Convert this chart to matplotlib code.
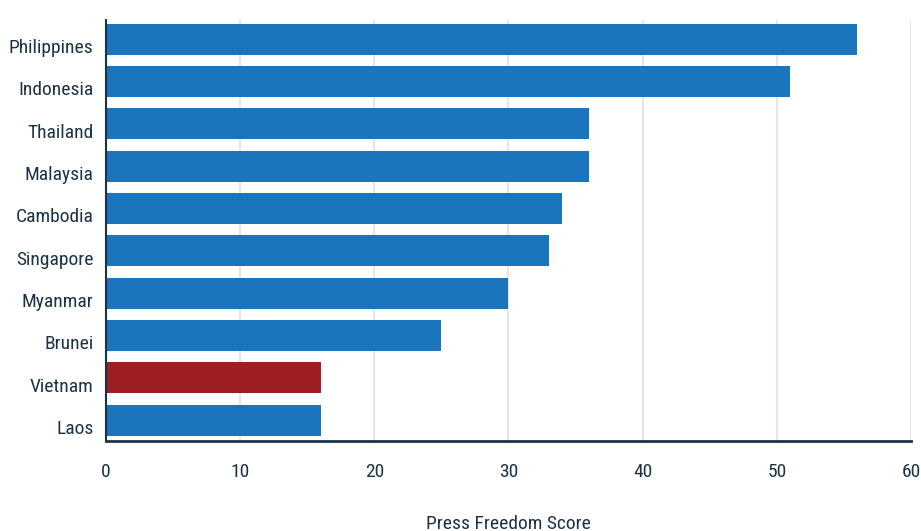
import matplotlib.pyplot as plt
from matplotlib.transforms import ScaledTranslation

countries = ["Philippines", "Indonesia", "Thailand", "Malaysia", "Cambodia",
             "Singapore", "Myanmar", "Brunei", "Vietnam", "Laos"]
scores = [56, 51, 36, 36, 34, 33, 30, 25, 16, 16]
highlight = "Vietnam"
xticks = [0, 10, 20, 30, 40, 50, 60]

plt.rcParams['font.family'] = ['Roboto Condensed', 'DejaVu Sans']

text_color = "#1c3347"
blue = "#1b75bc"
red = "#9e1f22"

fig = plt.figure(figsize=(9.21, 5.31), dpi=100)
ax = fig.add_axes([0.1151, 0.1695, 0.874, 0.7928])

colors = [red if c == highlight else blue for c in countries]
ypos = list(range(len(countries)))
ax.barh(ypos, scores, height=0.73, color=colors, zorder=2)

ax.set_yticks(ypos)
ax.set_yticklabels(countries)
ax.set_ylim(len(countries) - 0.51, -0.45)
ax.set_xlim(0, 60)
ax.set_xticks(xticks)

ax.grid(axis='x', color='#e6e6e6', linewidth=1.5, zorder=0)
for s in ['top', 'right']:
    ax.spines[s].set_visible(False)
ax.spines['left'].set_color(text_color)
ax.spines['left'].set_linewidth(1.5)
ax.spines['bottom'].set_color(text_color)
ax.spines['bottom'].set_linewidth(2)

ax.tick_params(axis='both', length=0, labelsize=14, colors=text_color)
ax.tick_params(axis='x', pad=16)
ax.tick_params(axis='y', pad=9)
# country names sit a little below the bar centres
shift = ScaledTranslation(0, -5 / 72, fig.dpi_scale_trans)
for lab in ax.get_yticklabels():
    lab.set_transform(lab.get_transform() + shift)
ax.set_xlabel("Press Freedom Score", fontsize=14, color=text_color, labelpad=24)

fig.savefig("out.png", dpi=100)
